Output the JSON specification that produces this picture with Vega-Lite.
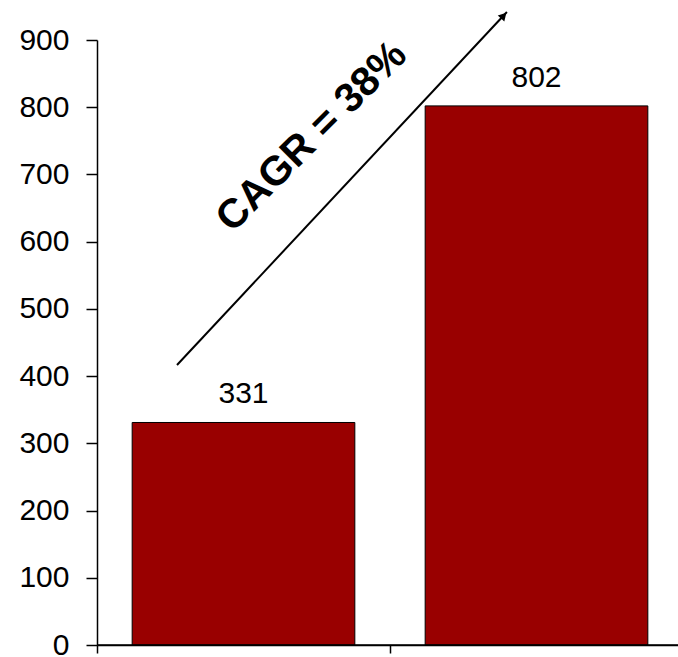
{
  "$schema": "https://vega.github.io/schema/vega-lite/v6.json",
  "autosize": {"type": "none"},
  "padding": {"left": 97, "top": 40, "right": 0, "bottom": 12},
  "width": 581,
  "height": 605,
  "config": {
    "view": {"stroke": null},
    "font": "Liberation Sans"
  },
  "datasets": {
    "bars": [
      {"period": "A", "value": 331},
      {"period": "B", "value": 802}
    ],
    "growth": [
      {"x": 0.273, "y": 416.5, "x2": 1.399, "y2": 941.7, "hx": 1.388, "hy": 936.2, "tx": 0.734, "ty": 755.7, "label": "CAGR = 38%"}
    ],
    "baseline": [
      {"x": 0, "x2": 2, "y": 0}
    ]
  },
  "layer": [
    {
      "data": {"name": "bars"},
      "encoding": {
        "x": {
          "field": "period",
          "type": "nominal",
          "scale": {"range": [0, 586], "paddingInner": 0, "paddingOuter": 0},
          "axis": {
            "title": null,
            "labels": false,
            "domain": true,
            "tickBand": "extent",
            "domainColor": "black",
            "domainWidth": 1.5,
            "tickColor": "black",
            "tickWidth": 1.5,
            "tickSize": 8
          }
        },
        "y": {
          "field": "value",
          "type": "quantitative",
          "scale": {"domain": [0, 900], "nice": false},
          "axis": {
            "title": null,
            "values": [0, 100, 200, 300, 400, 500, 600, 700, 800, 900],
            "grid": false,
            "domainColor": "black",
            "domainWidth": 1.5,
            "tickColor": "black",
            "tickWidth": 1.5,
            "tickSize": 11,
            "labelPadding": 17,
            "labelFontSize": 30,
            "labelColor": "black",
            "labelFont": "Liberation Sans"
          }
        }
      },
      "layer": [
        {"mark": {"type": "bar", "color": "#990000", "stroke": "black", "strokeWidth": 1, "width": {"band": 0.76}}},
        {
          "mark": {"type": "text", "baseline": "alphabetic", "dy": -19, "fontSize": 30, "color": "black", "font": "Liberation Sans"},
          "encoding": {"text": {"field": "value", "type": "quantitative"}}
        }
      ]
    },
    {
      "layer": [
        {
          "data": {"name": "baseline"},
          "mark": {"type": "rule", "color": "black", "strokeWidth": 1.5, "clip": false},
          "encoding": {
            "x": {"field": "x", "type": "quantitative", "scale": {"domain": [0, 2], "range": [0, 586]}, "axis": null},
            "x2": {"field": "x2"},
            "y": {"field": "y", "type": "quantitative", "scale": {"domain": [0, 900], "nice": false}}
          }
        },
        {
          "data": {"name": "growth"},
          "mark": {"type": "rule", "color": "black", "strokeWidth": 2, "clip": false},
          "encoding": {
            "x": {"field": "x", "type": "quantitative", "scale": {"domain": [0, 2], "range": [0, 586]}, "axis": null},
            "y": {"field": "y", "type": "quantitative", "scale": {"domain": [0, 900], "nice": false}},
            "x2": {"field": "x2"},
            "y2": {"field": "y2"}
          }
        },
        {
          "data": {"name": "growth"},
          "mark": {"type": "point", "shape": "triangle-up", "filled": true, "color": "black", "size": 80, "angle": 43, "opacity": 1, "clip": false},
          "encoding": {
            "x": {"field": "hx", "type": "quantitative", "scale": {"domain": [0, 2], "range": [0, 586]}, "axis": null},
            "y": {"field": "hy", "type": "quantitative", "scale": {"domain": [0, 900], "nice": false}}
          }
        },
        {
          "data": {"name": "growth"},
          "mark": {"type": "text", "angle": -45, "align": "center", "baseline": "middle", "fontSize": 41, "fontWeight": "bold", "color": "black", "font": "Liberation Sans", "clip": false},
          "encoding": {
            "x": {"field": "tx", "type": "quantitative", "scale": {"domain": [0, 2], "range": [0, 586]}, "axis": null},
            "y": {"field": "ty", "type": "quantitative", "scale": {"domain": [0, 900], "nice": false}},
            "text": {"field": "label"}
          }
        }
      ]
    }
  ],
  "resolve": {"scale": {"x": "independent"}, "axis": {"x": "independent"}}
}
